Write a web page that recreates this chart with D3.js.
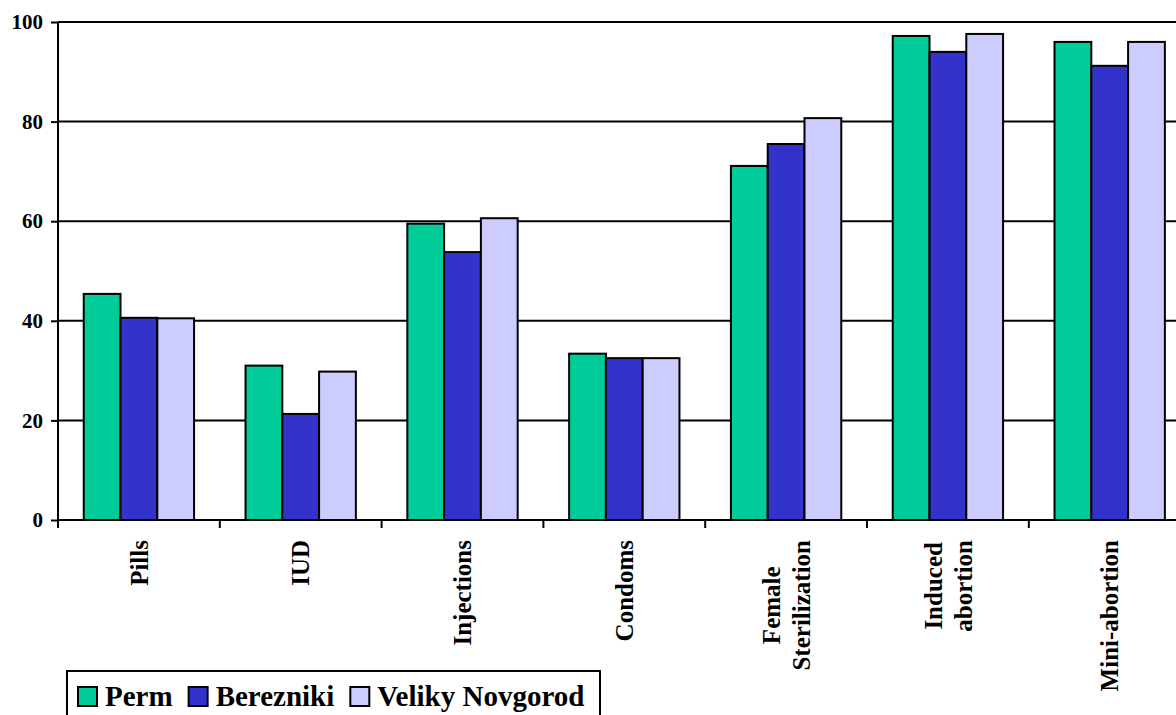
<!DOCTYPE html>
<html>
<head>
<meta charset="utf-8">
<script src="https://cdn.jsdelivr.net/npm/d3@7"></script>
<style>
  html, body { margin: 0; padding: 0; background: #fff; }
  svg { display: block; }
</style>
</head>
<body>
<svg id="chart" width="1176" height="715"></svg>
<script>
// Method categories (line breaks mark two-line labels)
const categories = ["Pills", "IUD", "Injections", "Condoms", "Female\nSterilization", "Induced\nabortion", "Mini-abortion"];
// Cities compared
const seriesNames = ["Perm", "Berezniki", "Veliky Novgorod"];
const seriesColors = ["#00CC99", "#3333CC", "#CCCCFF"];
// Percentages per city
const perm      = [45.4, 31.0, 59.5, 33.4, 71.1, 97.2, 96.0];
const berezniki = [40.6, 21.3, 53.8, 32.5, 75.5, 94.0, 91.2];
const veliky    = [40.5, 29.8, 60.6, 32.5, 80.7, 97.6, 96.0];
const seriesValues = [perm, berezniki, veliky];
// Value axis ticks
const yTicks = [0, 20, 40, 60, 80, 100];

const FONT = "font-family:'Liberation Serif';font-weight:bold;fill:#000";

const svg = d3.select("#chart");
const plot = { left: 58, top: 22, bottom: 520, step: 161.8 };
const plotRight = plot.left + plot.step * categories.length;

const x0 = d3.scaleBand().domain(categories).range([plot.left, plotRight]).padding(0);
const x1 = d3.scaleBand().domain(seriesNames)
  .range([x0.bandwidth() * 0.159, x0.bandwidth() * 0.841]).padding(0);
const y = d3.scaleLinear().domain([0, 100]).range([plot.bottom, plot.top]);

// horizontal gridlines
svg.append("g").selectAll("line").data(yTicks.filter(d => d > 0)).join("line")
  .attr("x1", plot.left).attr("x2", plotRight)
  .attr("y1", d => y(d)).attr("y2", d => y(d))
  .attr("stroke", "#000").attr("stroke-width", 2);

// bars
const rows = categories.map((c, i) => ({ cat: c, vals: seriesNames.map((s, j) => ({ s, j, v: seriesValues[j][i] })) }));
svg.append("g").selectAll("g").data(rows).join("g")
  .attr("transform", d => `translate(${x0(d.cat)},0)`)
  .selectAll("rect").data(d => d.vals).join("rect")
  .attr("x", d => x1(d.s)).attr("width", x1.bandwidth())
  .attr("y", d => y(d.v)).attr("height", d => y(0) - y(d.v))
  .attr("fill", d => seriesColors[d.j])
  .attr("stroke", "#000").attr("stroke-width", 2);

// y axis
const yAxis = svg.append("g").attr("transform", `translate(${plot.left},0)`)
  .call(d3.axisLeft(y).tickValues(yTicks).tickSize(7).tickPadding(8).tickFormat(d3.format("d")));
yAxis.attr("font-family", null).attr("font-size", null);
yAxis.select(".domain").attr("stroke", "#000").attr("stroke-width", 2).attr("d", `M0,${plot.top}V${plot.bottom}`);
yAxis.selectAll(".tick line").attr("stroke", "#000").attr("stroke-width", 2);
yAxis.selectAll(".tick text").attr("style", FONT + ";font-size:21px");

// x axis baseline and tick marks at category boundaries
svg.append("line").attr("x1", plot.left).attr("x2", plotRight)
  .attr("y1", y(0)).attr("y2", y(0)).attr("stroke", "#000").attr("stroke-width", 2);
const bounds = categories.map(c => x0(c)).concat([plotRight]);
svg.append("g").selectAll("line").data(bounds).join("line")
  .attr("x1", d => d).attr("x2", d => d)
  .attr("y1", y(0)).attr("y2", y(0) + 8)
  .attr("stroke", "#000").attr("stroke-width", 2);

// rotated category labels, lines centred within their block, block ending below the axis
const labelTop = 540, lineH = 30, labelSize = 25;
categories.forEach(c => {
  const lines = c.split("\n");
  const cx = x0(c) + x0.bandwidth() / 2;
  const g = svg.append("g").attr("transform", `translate(${cx},0) rotate(-90)`);
  const texts = lines.map((ln, i) => g.append("text")
    .attr("style", FONT + `;font-size:${labelSize}px`)
    .attr("text-anchor", "middle")
    .attr("y", (i - (lines.length - 1) / 2) * lineH)
    .attr("dy", "0.35em")
    .text(ln));
  const maxLen = d3.max(texts, t => t.node().getComputedTextLength());
  texts.forEach(t => t.attr("x", -(labelTop + maxLen / 2)));
});

// legend
const legend = svg.append("g");
legend.append("rect").attr("x", 67).attr("y", 671).attr("width", 533).attr("height", 70)
  .attr("fill", "#fff").attr("stroke", "#000").attr("stroke-width", 2);
let lx = 78;
seriesNames.forEach((s, j) => {
  legend.append("rect").attr("x", lx).attr("y", 687).attr("width", 19).attr("height", 19)
    .attr("fill", seriesColors[j]).attr("stroke", "#000").attr("stroke-width", 2);
  const t = legend.append("text").attr("x", lx + 27).attr("y", 706)
    .attr("style", FONT + ";font-size:29px").text(s);
  lx += 27 + t.node().getComputedTextLength() + 16;
});
</script>
</body>
</html>
